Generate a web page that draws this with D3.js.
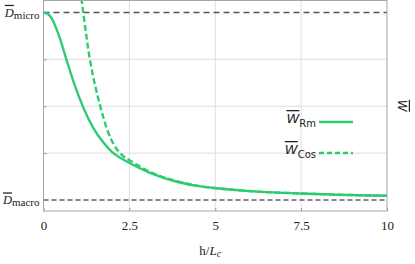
<!DOCTYPE html>
<html>
<head>
<meta charset="utf-8">
<script src="https://cdn.jsdelivr.net/npm/d3@7"></script>
<style>
  body { margin: 0; background: #fff; }
  svg { display: block; }
</style>
</head>
<body>
<script>
  // data (y in units where D_macro = 0, D_micro = 4)
  const rmX = [0, 0.12, 0.24, 0.43, 0.675, 0.87, 1.16, 1.44, 1.75, 2.0, 2.23, 2.5, 3.1, 3.88, 4.56, 5.05, 6.0, 7.47, 10];
  const rmY = [4, 3.97, 3.87, 3.55, 2.98, 2.53, 1.97, 1.55, 1.22, 1.02, 0.9, 0.79, 0.58, 0.39, 0.29, 0.25, 0.19, 0.14, 0.09];
  const cosX = [1.07, 1.11, 1.16, 1.35, 1.5, 1.645, 1.88, 2.1, 2.3, 2.57, 3.1, 3.88, 4.56, 5.05, 6.0, 7.47, 10];
  const cosY = [4.5, 4.26, 3.98, 3.0, 2.45, 2.02, 1.45, 1.12, 0.95, 0.82, 0.6, 0.405, 0.295, 0.25, 0.19, 0.14, 0.09];
  const xTicks = [0, 2.5, 5, 7.5, 10];
  const yGrid = [1, 2, 3];
  const refLevels = [{ name: 'micro', value: 4 }, { name: 'macro', value: 0 }];

  const width = 415, height = 264;
  const margin = { top: 0.5, right: 28, bottom: 53, left: 43.5 };
  const iw = width - margin.left - margin.right;
  const ih = height - margin.top - margin.bottom;

  const svg = d3.select('body').append('svg')
    .attr('width', width)
    .attr('height', height);

  const g = svg.append('g')
    .attr('transform', `translate(${margin.left},${margin.top})`);

  const x = d3.scaleLinear().domain([0, 10]).range([0, iw]);
  const y = d3.scaleLinear().domain([-0.234, 4.255]).range([ih, 0]);

  g.append('clipPath').attr('id', 'clip')
    .append('rect').attr('width', iw).attr('height', ih);

  // gridlines
  g.append('g')
    .selectAll('line')
    .data(xTicks.slice(1, -1))
    .enter().append('line')
      .attr('x1', d => x(d)).attr('x2', d => x(d))
      .attr('y1', 0).attr('y2', ih)
      .attr('stroke', '#dedede');

  g.append('g')
    .selectAll('line')
    .data(yGrid)
    .enter().append('line')
      .attr('x1', 0).attr('x2', iw)
      .attr('y1', d => y(d)).attr('y2', d => y(d))
      .attr('stroke', '#dedede');

  // x ticks (inward) + labels
  const xAxis = g.append('g')
    .attr('transform', `translate(0,${ih})`)
    .call(d3.axisBottom(x).tickValues(xTicks).tickSize(-3).tickPadding(10).tickFormat(d3.format('')));
  xAxis.select('.domain').remove();
  xAxis.selectAll('line').attr('stroke', '#999');
  xAxis.selectAll('text')
    .attr('font-family', 'Liberation Serif, serif')
    .attr('font-size', 13)
    .attr('fill', '#222');

  // y ticks (inward) at gridlines
  const yAxis = g.append('g')
    .call(d3.axisLeft(y).tickValues(yGrid).tickSize(-3).tickFormat(''));
  yAxis.select('.domain').remove();
  yAxis.selectAll('line').attr('stroke', '#999');

  // reference levels
  g.append('line')
    .attr('x1', 0).attr('x2', iw)
    .attr('y1', y(4)).attr('y2', y(4))
    .attr('stroke', '#555').attr('stroke-width', 1.6)
    .attr('stroke-dasharray', '6,4');

  g.append('line')
    .attr('x1', 0).attr('x2', iw)
    .attr('y1', y(0)).attr('y2', y(0))
    .attr('stroke', '#111').attr('stroke-width', 1.1)
    .attr('stroke-dasharray', '5,3');

  // left labels
  const lab = g.selectAll('text.ref')
    .data(refLevels)
    .enter().append('text')
      .attr('x', -4)
      .attr('y', d => y(d.value))
      .attr('dy', '0.35em')
      .attr('text-anchor', 'end')
      .attr('font-family', 'Liberation Serif, serif')
      .attr('font-size', 12.5)
      .attr('fill', '#222');
  lab.append('tspan')
    .attr('font-style', 'italic')
    .style('text-decoration', 'overline')
    .text('D');
  lab.append('tspan')
    .attr('dy', 2)
    .attr('font-size', 11)
    .text(d => d.name);

  // curves
  const line = d3.line()
    .x(d => x(d[0]))
    .y(d => y(d[1]))
    .curve(d3.curveMonotoneX);

  const curves = g.append('g').attr('clip-path', 'url(#clip)');
  curves.append('path')
    .datum(d3.zip(cosX, cosY))
    .attr('d', line)
    .attr('fill', 'none')
    .attr('stroke', '#2ecc71')
    .attr('stroke-width', 2.4)
    .attr('stroke-dasharray', '6,3');

  curves.append('path')
    .datum(d3.zip(rmX, rmY))
    .attr('d', line)
    .attr('fill', 'none')
    .attr('stroke', '#2ecc71')
    .attr('stroke-width', 2.4);

  // frame
  g.append('rect')
    .attr('width', iw).attr('height', ih)
    .attr('fill', 'none')
    .attr('stroke', '#a6a6a6');

  // legend
  const legend = [
    { sub: 'Rm', dash: null, y: 122 },
    { sub: 'Cos', dash: '5,3', y: 153 }
  ];
  const lg = svg.selectAll('g.leg')
    .data(legend)
    .enter().append('g')
      .attr('transform', d => `translate(0,${d.y})`);
  lg.append('line')
    .attr('x1', 319).attr('x2', 353)
    .attr('stroke', '#2ecc71').attr('stroke-width', 2.4)
    .attr('stroke-dasharray', d => d.dash);
  const lt = lg.append('text')
    .attr('x', 316)
    .attr('y', 0)
    .attr('text-anchor', 'end')
    .attr('font-family', 'DejaVu Sans, sans-serif')
    .attr('fill', '#222');
  lt.append('tspan')
    .attr('font-style', 'italic')
    .attr('font-size', 13)
    .attr('dy', 1)
    .style('text-decoration', 'overline')
    .text('W');
  lt.append('tspan')
    .attr('font-size', 10)
    .attr('dy', 4)
    .text(d => d.sub);

  // right label
  svg.append('text')
    .attr('transform', `translate(${margin.left + iw + 11},${margin.top + ih / 2}) rotate(90)`)
    .attr('text-anchor', 'middle')
    .attr('font-family', 'DejaVu Sans, sans-serif')
    .attr('font-style', 'italic')
    .attr('font-size', 12)
    .attr('fill', '#222')
    .style('text-decoration', 'overline')
    .text('W');

  // x label
  const xl = svg.append('text')
    .attr('x', margin.left + iw / 2 - 5)
    .attr('y', 255)
    .attr('text-anchor', 'middle')
    .attr('font-family', 'Liberation Serif, serif')
    .attr('font-size', 13)
    .attr('fill', '#222');
  xl.append('tspan').text('h/');
  xl.append('tspan').attr('font-style', 'italic').text('L');
  xl.append('tspan').attr('font-style', 'italic').attr('font-size', 10).attr('dy', 2).text('c');
</script>
</body>
</html>
